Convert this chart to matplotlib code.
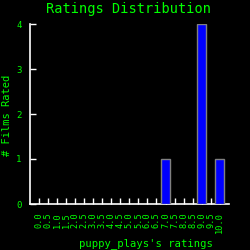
import matplotlib
matplotlib.use("Agg")
import matplotlib.pyplot as plt
import numpy as np

# ratings and how many films got each one
ratings = [7.0, 9.0, 10.0]
counts = [1, 4, 1]
tick_values = [i * 0.5 for i in range(21)]
tick_labels = ["%.1f" % v for v in tick_values]

green = "#00ff00"
plt.rcParams["font.family"] = "DejaVu Sans Mono"

fig = plt.figure(figsize=(2.5, 2.5), dpi=100, facecolor="black")
ax = fig.add_axes([0.12, 0.184, 0.795, 0.72], facecolor="black")

ax.bar(ratings, counts, width=0.5, color="#0000ff", edgecolor="#808080", linewidth=1, zorder=3)

ax.set_xlim(-0.5, 10.5)
ax.set_ylim(0, 4)
ax.set_xticks(tick_values)
ax.set_xticklabels(tick_labels, rotation=90, fontsize=6.2, color=green)
ax.set_yticks([0, 1, 2, 3, 4])
ax.set_yticklabels(["0", "1", "2", "3", "4"], fontsize=6.5, color=green)
ax.tick_params(axis="both", direction="in", color="white", length=4, width=1, pad=6)

for s in ["top", "right"]:
    ax.spines[s].set_visible(False)
for s in ["left", "bottom"]:
    ax.spines[s].set_color("white")
    ax.spines[s].set_linewidth(1.2)

fig.text(0.516, 0.966, "Ratings Distribution", color=green, fontsize=9.8, ha="center", va="center")
fig.text(0.03, 0.54, "# Films Rated", color=green, fontsize=7.5, rotation=90, ha="center", va="center")
fig.text(0.584, 0.014, "puppy_plays's ratings", color=green, fontsize=7.6, ha="center", va="baseline")

fig.savefig("out.png", dpi=100, facecolor="black")
